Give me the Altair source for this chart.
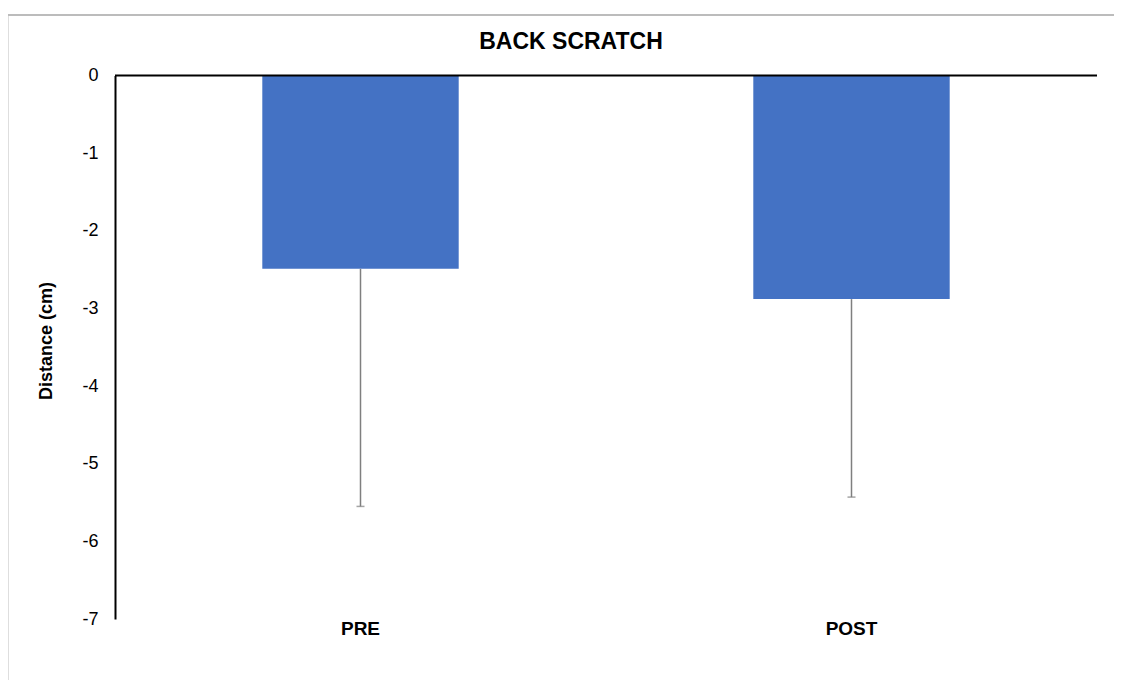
import altair as alt
import pandas as pd

categories = ["PRE", "POST"]
means = [-2.49, -2.88]
errors = [3.06, 2.55]
y_ticks = [0, -1, -2, -3, -4, -5, -6, -7]

df = pd.DataFrame({"cat": categories, "mean": means, "err": errors})

W, H = 982, 543.5
FONT = "Liberation Sans"

base = alt.Chart(df).transform_calculate(low="datum.mean - datum.err")

x_enc = alt.X(
    "cat:N",
    sort=categories,
    scale=alt.Scale(paddingInner=0.6, paddingOuter=0.3),
    axis=alt.Axis(
        title=None, domain=False, ticks=False, grid=False, labelAngle=0,
        labelFont=FONT, labelFontSize=19, labelFontWeight="bold",
        labelColor="black", labelBaseline="middle", labelPadding=9,
    ),
)

bars = base.mark_bar(color="#4472C4").encode(
    x=x_enc,
    y=alt.Y(
        "mean:Q",
        scale=alt.Scale(domain=[-7, 0], nice=False),
        axis=alt.Axis(
            title="Distance (cm)", values=y_ticks, grid=False, ticks=False,
            labelExpr="'' + datum.value",
            domainColor="black", domainWidth=2,
            labelFont=FONT, labelFontSize=18, labelColor="black", labelPadding=17,
            titleFont=FONT, titleFontSize=18, titleFontWeight="bold", titleColor="black",
            titleAngle=270, titleX=-69, titleY=265, titleAlign="center",
            titleBaseline="middle",
        ),
    ),
)

err_line = base.mark_rule(color="#7f7f7f", strokeWidth=1.5).encode(
    x=alt.X("cat:N", sort=categories),
    y="mean:Q",
    y2="low:Q",
)

caps = base.mark_tick(color="#7f7f7f", size=8, thickness=1.5).encode(
    x=alt.X("cat:N", sort=categories),
    y="low:Q",
)

zero_line = alt.Chart(pd.DataFrame({"z": [0]})).mark_rule(
    color="black", strokeWidth=2
).encode(y="z:Q")

border_top = alt.Chart(pd.DataFrame({"z": [0]})).mark_rule(
    color="#a6a6a6", strokeWidth=1.5
).encode(x=alt.value(-107), x2=alt.value(W + 40), y=alt.value(-60.5))

border_left = alt.Chart(pd.DataFrame({"z": [0]})).mark_rule(
    color="#bdbdbd", strokeWidth=1
).encode(x=alt.value(-107), y=alt.value(-60.5), y2=alt.value(H + 80))

chart = (
    alt.layer(bars, err_line, caps, zero_line, border_top, border_left)
    .properties(
        width=W,
        height=H,
        view=alt.ViewBackground(stroke="transparent", strokeOpacity=0),
        title=alt.TitleParams(
            "BACK SCRATCH", font=FONT, fontSize=23, fontWeight="bold",
            color="black", anchor="middle", dx=-35, offset=0, dy=40,
        ),
        padding={"left": 107, "top": 67.5, "right": 17, "bottom": 61},
        autosize=alt.AutoSizeParams(type="none"),
    )
    .configure_view(stroke="transparent", strokeOpacity=0)
    .configure(background="white")
)

chart.save("out.html", embed_options={"renderer": "svg", "actions": False})
